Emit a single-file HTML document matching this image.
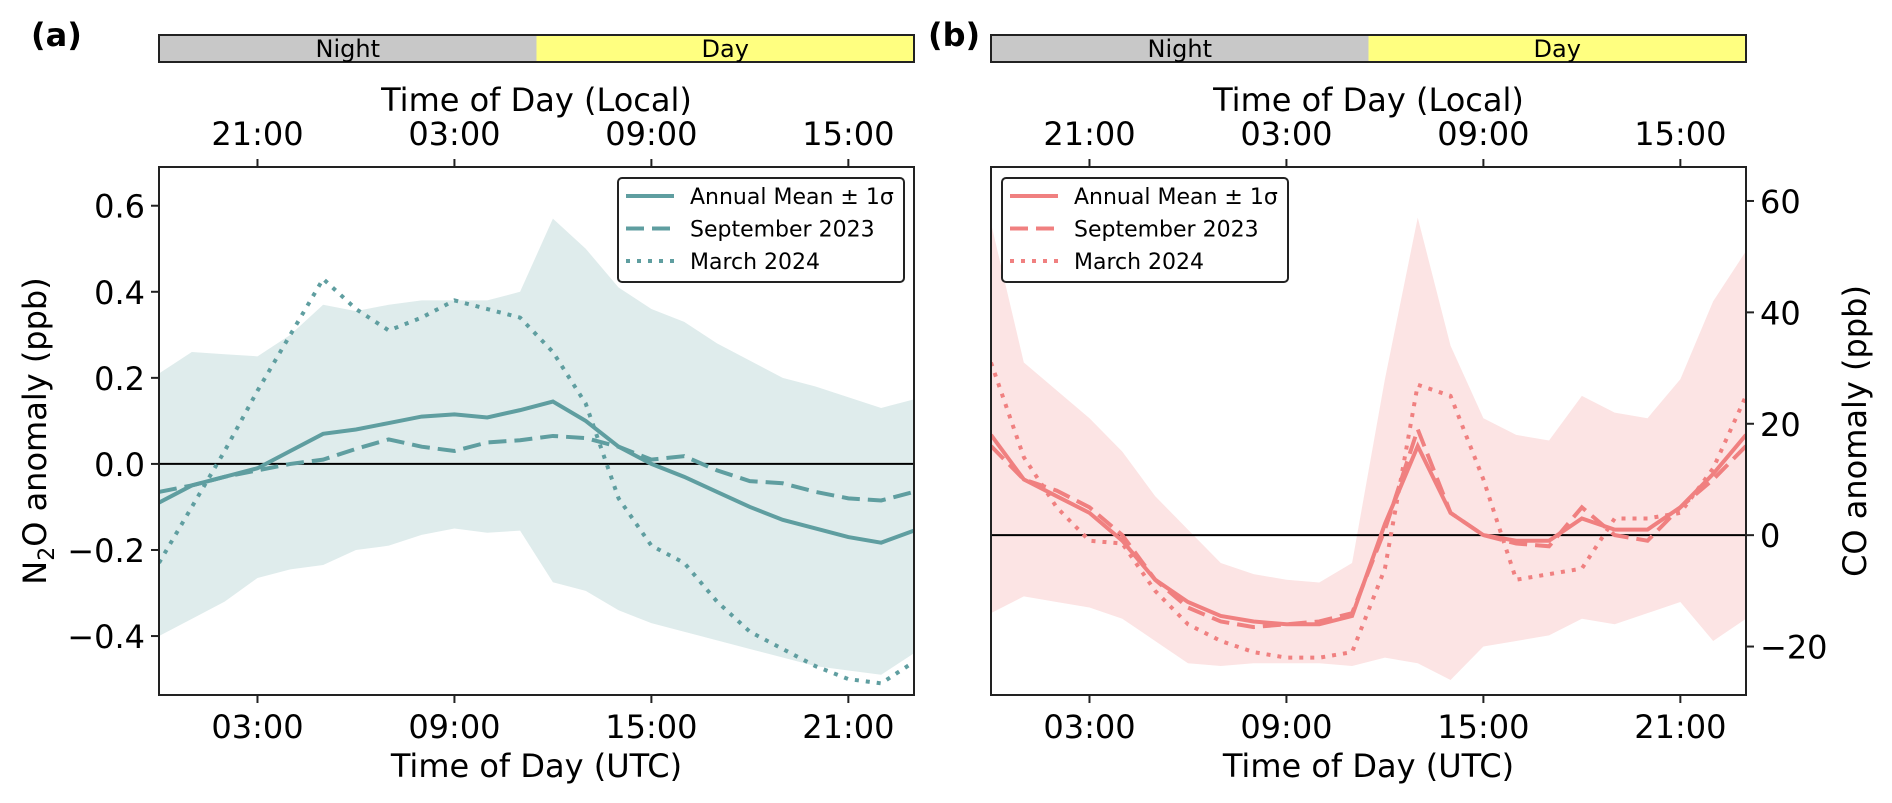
<!DOCTYPE html>
<html><head><meta charset="utf-8"><style>
html,body{margin:0;padding:0;background:#fff;}
svg{display:block;font-family:"DejaVu Sans","Liberation Sans",sans-serif;}
</style></head><body>
<svg id="fig" width="1892" height="803" viewBox="0 0 1892 803" xmlns="http://www.w3.org/2000/svg"></svg>
<script>
// ---- data ----
const hours = [0,1,2,3,4,5,6,7,8,9,10,11,12,13,14,15,16,17,18,19,20,21,22,23];
const n2oMean = [-0.09,-0.05,-0.03,-0.01,0.03,0.07,0.08,0.095,0.11,0.115,0.108,0.125,0.145,0.10,0.04,0.0,-0.03,-0.065,-0.10,-0.13,-0.15,-0.17,-0.183,-0.155];
const n2oSep = [-0.065,-0.05,-0.03,-0.015,0.0,0.01,0.035,0.057,0.04,0.03,0.05,0.055,0.065,0.06,0.04,0.01,0.018,-0.015,-0.04,-0.045,-0.065,-0.08,-0.085,-0.065];
const n2oMar = [-0.23,-0.1,0.03,0.17,0.30,0.43,0.36,0.31,0.34,0.38,0.36,0.34,0.26,0.14,-0.08,-0.19,-0.23,-0.32,-0.39,-0.43,-0.47,-0.50,-0.51,-0.46];
const n2oUpper = [0.21,0.26,0.255,0.25,0.30,0.37,0.355,0.37,0.38,0.38,0.38,0.40,0.57,0.50,0.41,0.36,0.33,0.28,0.24,0.20,0.18,0.155,0.13,0.15];
const n2oLower = [-0.40,-0.36,-0.32,-0.265,-0.245,-0.235,-0.20,-0.19,-0.165,-0.15,-0.16,-0.155,-0.275,-0.295,-0.34,-0.37,-0.39,-0.41,-0.43,-0.45,-0.47,-0.48,-0.49,-0.44];
const coMean = [18,10,7,4,-1,-8,-12,-14.5,-15.5,-16,-16,-14.5,2,16,4,0,-1,-1,3,1,1,5,11,18];
const coSep = [16,10,8,5,0,-8,-13,-15.5,-16.5,-16,-15.5,-14,1,19,4,0,-1.5,-2,5,0,-1,5,10,16];
const coMar = [31,14,5,-1,-1.5,-10,-16,-19,-21,-22,-22,-21,-6,27,25,10,-8,-7,-6,3,3,4,12,25];
const coUpper = [56,31,26,21,15,7,1,-5,-7,-8,-8.5,-5,28,57,34,21,18,17,25,22,21,28,42,51];
const coLower = [-14,-11,-12,-13,-15,-19,-23,-23.5,-23,-23,-23,-23.5,-22,-23,-26,-20,-19,-18,-15,-16,-14,-12,-19,-15];
const utcTicks = [3,9,15,21];
const utcLabels = ["03:00","09:00","15:00","21:00"];
const localLabels = ["21:00","03:00","09:00","15:00"];
const n2oTicks = [-0.4,-0.2,0.0,0.2,0.4,0.6];
const n2oTickLabels = ["\u22120.4","\u22120.2","0.0","0.2","0.4","0.6"];
const coTicks = [-20,0,20,40,60];
const coTickLabels = ["\u221220","0","20","40","60"];
const legendLabels = ["Annual Mean \u00b1 1\u03c3","September 2023","March 2024"];
const dayStart = 11.5;

const NS="http://www.w3.org/2000/svg";
const svg=document.getElementById('fig');
function mk(tag,attrs,parent){const e=document.createElementNS(NS,tag);for(const k in attrs)e.setAttribute(k,attrs[k]);(parent||svg).appendChild(e);return e;}
function txt(s,attrs,parent){const e=mk('text',attrs,parent);e.textContent=s;return e;}

const TOP=167,BOT=695,XMIN=0,XMAX=23;
function panel(cfg){
  const g=mk('g',{});
  
  
  const L=cfg.left,R=cfg.left+755;
  const x=h=>L+(h-XMIN)/(XMAX-XMIN)*(R-L);
  const y=v=>TOP+(cfg.ymax-v)/(cfg.ymax-cfg.ymin)*(BOT-TOP);
  const nb=mk('rect',{x:L,y:35,width:x(dayStart)-L,height:27,fill:'#c8c8c8'},g);
  
  
  const db=mk('rect',{x:x(dayStart),y:35,width:R-x(dayStart),height:27,fill:'#ffff80'},g);
  
  
  mk('rect',{x:L,y:35,width:R-L,height:27,fill:'none',stroke:'#222','stroke-width':2},g);
  txt('Night',{x:(L+x(dayStart))/2,y:57,'font-size':24,'text-anchor':'middle'},g);
  txt('Day',{x:(x(dayStart)+R)/2,y:57,'font-size':24,'text-anchor':'middle'},g);
  const pl=txt(cfg.letter,{x:cfg.letterX,y:46,'font-size':32,'font-weight':'bold'},g);
  
  
  let d='';
  hours.forEach((h,i)=>{d+=(i?'L':'M')+x(h)+' '+y(cfg.upper[i]);});
  for(let i=hours.length-1;i>=0;i--)d+='L'+x(hours[i])+' '+y(cfg.lower[i]);
  const band=mk('path',{d:d+'Z',fill:cfg.band},g);
  
  
  mk('line',{x1:L,x2:R,y1:y(0),y2:y(0),stroke:'#000','stroke-width':2},g);
  const series=[[cfg.mean,'none','annual-mean-line'],[cfg.sep,'18 8','september-2023-line'],[cfg.mar,'4 7','march-2024-line']];
  const cid='clip'+cfg.letter.replace(/\W/g,'');
  const cp=mk('clipPath',{id:cid},g);
  mk('rect',{x:L,y:TOP,width:R-L,height:BOT-TOP},cp);
  series.forEach(s=>{
    const p=mk('polyline',{points:hours.map((h,i)=>x(h)+','+y(s[0][i])).join(' '),fill:'none',stroke:cfg.color,'stroke-width':4,'stroke-dasharray':s[1],'clip-path':'url(#'+cid+')'},g);
    
    
  });
  mk('rect',{x:L,y:TOP,width:R-L,height:BOT-TOP,fill:'none',stroke:'#222','stroke-width':2},g);
  utcTicks.forEach((t,i)=>{
    mk('line',{x1:x(t),x2:x(t),y1:BOT,y2:BOT+8,stroke:'#222','stroke-width':2},g);
    txt(utcLabels[i],{x:x(t),y:738,'font-size':32,'text-anchor':'middle'},g);
    mk('line',{x1:x(t),x2:x(t),y1:TOP,y2:TOP-8,stroke:'#222','stroke-width':2},g);
    txt(localLabels[i],{x:x(t),y:145,'font-size':32,'text-anchor':'middle'},g);
  });
  const xl=txt('Time of Day (UTC)',{x:(L+R)/2,y:777,'font-size':32,'text-anchor':'middle'},g);
  
  
  const tl=txt('Time of Day (Local)',{x:(L+R)/2,y:111,'font-size':32,'text-anchor':'middle'},g);
  
  
  cfg.ticks.forEach((t,i)=>{
    const yy=y(t);
    if(cfg.side==='left'){
      mk('line',{x1:L,x2:L-8,y1:yy,y2:yy,stroke:'#222','stroke-width':2},g);
      txt(cfg.tickLabels[i],{x:L-14,y:yy+12,'font-size':32,'text-anchor':'end'},g);
    }else{
      mk('line',{x1:R,x2:R+8,y1:yy,y2:yy,stroke:'#222','stroke-width':2},g);
      txt(cfg.tickLabels[i],{x:R+14,y:yy+12,'font-size':32,'text-anchor':'start'},g);
    }
  });
  const lg=mk('g',{},g);
  
  
  mk('rect',{x:cfg.legX,y:178,width:286,height:104,rx:4,fill:'#fff',stroke:'#222','stroke-width':2},lg);
  const dashes=['none','18 8','4 7'];
  legendLabels.forEach((lab,i)=>{
    const ry=196+i*32.5;
    mk('line',{x1:cfg.legX+8,x2:cfg.legX+56,y1:ry,y2:ry,stroke:cfg.color,'stroke-width':4,'stroke-dasharray':dashes[i]},lg);
    const t=txt(lab,{x:cfg.legX+72,y:ry+8,'font-size':22},lg);
    
    
  });
  return g;
}
panel({name:'n2o-panel',letter:'(a)',letterX:31,left:159,ymin:-0.537,ymax:0.69,upper:n2oUpper,lower:n2oLower,mean:n2oMean,sep:n2oSep,mar:n2oMar,color:'#5f9ea0',band:'#dfecec',ticks:n2oTicks,tickLabels:n2oTickLabels,side:'left',legX:618});
panel({name:'co-panel',letter:'(b)',letterX:928,left:991,ymin:-28.7,ymax:66.1,upper:coUpper,lower:coLower,mean:coMean,sep:coSep,mar:coMar,color:'#f08080',band:'#fce4e4',ticks:coTicks,tickLabels:coTickLabels,side:'right',legX:1002});
const y1=txt('',{transform:'translate(46,431) rotate(-90)','font-size':32,'text-anchor':'middle'});
y1.innerHTML='N<tspan font-size="22" dy="8">2</tspan><tspan dy="-8">O anomaly (ppb)</tspan>';


const y2=txt('CO anomaly (ppb)',{transform:'translate(1866,431) rotate(-90)','font-size':32,'text-anchor':'middle'});


</script>
</body></html>
